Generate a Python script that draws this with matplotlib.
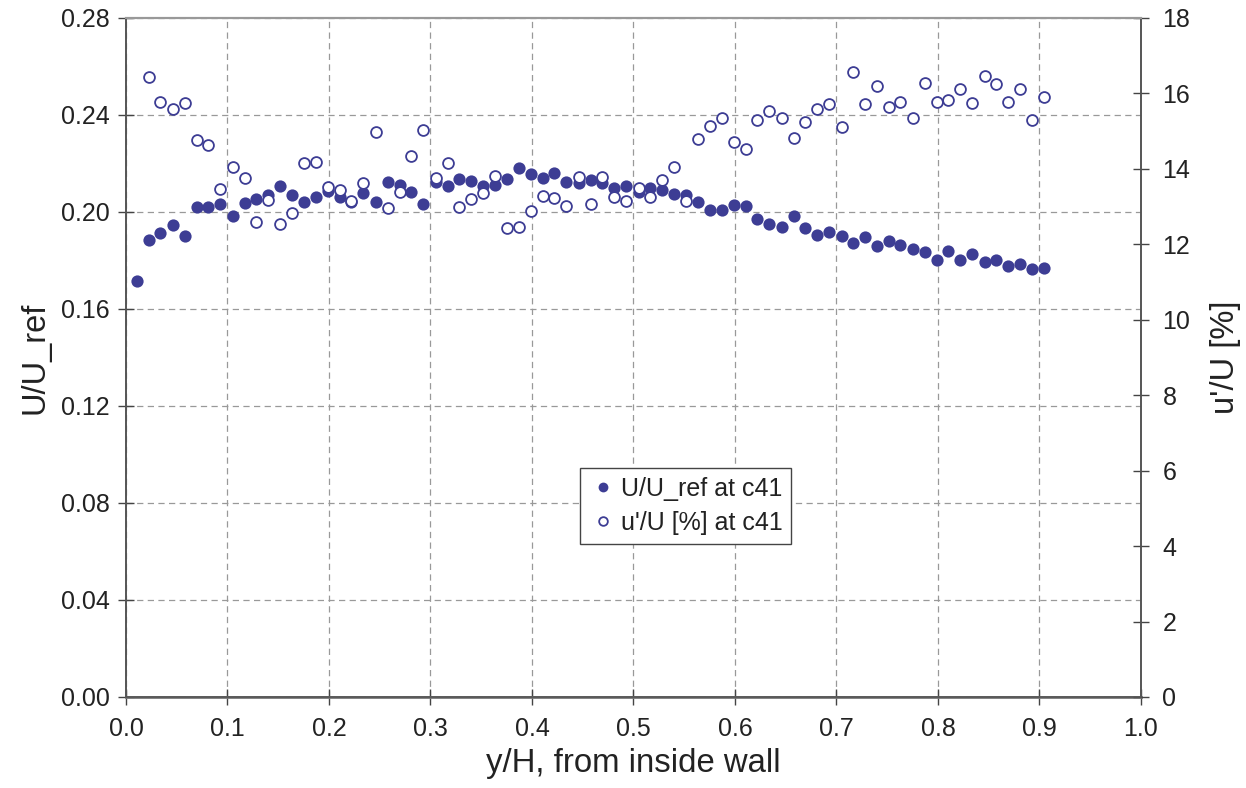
import matplotlib
matplotlib.use('Agg')
import matplotlib.pyplot as plt
import numpy as np

plt.rcParams['font.family'] = ['Liberation Sans', 'DejaVu Sans']

# y/H positions
x_pos = [0.011, 0.023, 0.034, 0.046, 0.058, 0.070, 0.081, 0.093, 0.105, 0.117,
         0.128, 0.140, 0.152, 0.164, 0.175, 0.187, 0.199, 0.211, 0.222, 0.234,
         0.246, 0.258, 0.270, 0.281, 0.293, 0.305, 0.317, 0.328, 0.340, 0.352,
         0.364, 0.375, 0.387, 0.399, 0.411, 0.422, 0.434, 0.446, 0.458, 0.469,
         0.481, 0.493, 0.505, 0.516, 0.528, 0.540, 0.552, 0.564, 0.575, 0.587,
         0.599, 0.611, 0.622, 0.634, 0.646, 0.658, 0.669, 0.681, 0.693, 0.705,
         0.716, 0.728, 0.740, 0.752, 0.763, 0.775, 0.787, 0.799, 0.810, 0.822,
         0.834, 0.846, 0.857, 0.869, 0.881, 0.893, 0.904]

# U/U_ref at c41
u_mean = [0.1715, 0.1885, 0.1913, 0.1948, 0.1902, 0.2019, 0.2019, 0.2033, 0.1985, 0.2038,
          0.2055, 0.2069, 0.2106, 0.2071, 0.2042, 0.2061, 0.2088, 0.2063, 0.2042, 0.2077,
          0.2042, 0.2122, 0.2111, 0.2081, 0.2033, 0.2122, 0.2108, 0.2137, 0.2129, 0.2107,
          0.2111, 0.2136, 0.2180, 0.2155, 0.2140, 0.2161, 0.2125, 0.2118, 0.2131, 0.2118,
          0.2100, 0.2107, 0.2084, 0.2099, 0.2089, 0.2075, 0.2070, 0.2040, 0.2009, 0.2007,
          0.2028, 0.2024, 0.1970, 0.1951, 0.1939, 0.1984, 0.1933, 0.1904, 0.1918, 0.1901,
          0.1873, 0.1896, 0.1859, 0.1879, 0.1864, 0.1849, 0.1834, 0.1802, 0.1838, 0.1802,
          0.1827, 0.1794, 0.1802, 0.1779, 0.1786, 0.1764, 0.1770]

# u'/U [%] at c41 (no value at first position)
u_turb = [np.nan, 16.44, 15.78, 15.59, 15.74, 14.76, 14.63, 13.46, 14.05, 13.76,
          12.58, 13.18, 12.53, 12.83, 14.16, 14.18, 13.51, 13.44, 13.15, 13.63,
          14.97, 12.95, 13.39, 14.35, 15.03, 13.75, 14.15, 12.98, 13.21, 13.37,
          13.81, 12.42, 12.45, 12.88, 13.27, 13.22, 13.02, 13.79, 13.07, 13.78,
          13.25, 13.15, 13.50, 13.26, 13.71, 14.06, 13.16, 14.79, 15.13, 15.36,
          14.72, 14.53, 15.30, 15.54, 15.35, 14.81, 15.24, 15.59, 15.71, 15.10,
          16.57, 15.73, 16.20, 15.63, 15.76, 15.35, 16.27, 15.77, 15.83, 16.13,
          15.74, 16.47, 16.24, 15.78, 16.12, 15.30, 15.91]

color = '#3d3d94'

fig = plt.figure(figsize=(12.46, 7.88), dpi=100)
ax = fig.add_axes([0.1011, 0.1155, 0.8146, 0.8617])
ax2 = ax.twinx()

l1, = ax.plot(x_pos, u_mean, 'o', color=color, markersize=8.8, markeredgewidth=0,
              label='U/U_ref at c41', zorder=3)
l2, = ax2.plot(x_pos, u_turb, 'o', markerfacecolor='white', markeredgecolor=color,
               markersize=7.8, markeredgewidth=1.3, label="u'/U [%] at c41", zorder=2)

ax.set_xlim(0, 1.0)
ax.set_ylim(0, 0.28)
ax2.set_ylim(0, 18)
ax.set_xticks(np.arange(0, 1.01, 0.1))
ax.set_xticklabels([f'{v:.1f}' for v in np.arange(0, 1.01, 0.1)])
ax.set_yticks(np.arange(0, 0.281, 0.04))
ax.set_yticklabels([f'{v:.2f}' for v in np.arange(0, 0.281, 0.04)])
ax2.set_yticks(np.arange(0, 19, 2))

ax.grid(True, color='#999999', linestyle=(0, (5, 3.5)), linewidth=0.9)
ax.set_axisbelow(True)

for a in (ax, ax2):
    a.tick_params(direction='inout', length=11, width=1, colors='#444444',
                  labelsize=18, labelcolor='#222222', pad=6)
    for side in ('left', 'right', 'bottom'):
        a.spines[side].set_color('#555555')
        a.spines[side].set_linewidth(1.2)
    a.spines['top'].set_color('#999999')
    a.spines['top'].set_linewidth(1.5)
ax.spines['bottom'].set_color('#777777')
ax.spines['bottom'].set_linewidth(2)
ax.tick_params(axis='x', pad=9)
ax2.tick_params(axis='y', pad=10)

ax.set_xlabel('y/H, from inside wall', fontsize=23.7, color='#222222', labelpad=5)
ax.set_ylabel('U/U_ref', fontsize=23.5, color='#222222', labelpad=8)
ax2.set_ylabel("u'/U [%]", fontsize=23.5, color='#222222', labelpad=14)

leg = ax2.legend(handles=[l1, l2], loc='upper left', bbox_to_anchor=(0.447, 0.337),
                 fontsize=18, frameon=True, fancybox=False, framealpha=1,
                 edgecolor='#444444', borderpad=0.35, handletextpad=0.1,
                 handlelength=1.2, labelspacing=0.4, markerscale=0.8,
                 borderaxespad=0)
leg.get_frame().set_linewidth(1.0)
for t in leg.get_texts():
    t.set_color('#222222')

fig.savefig('out.png', dpi=100)
